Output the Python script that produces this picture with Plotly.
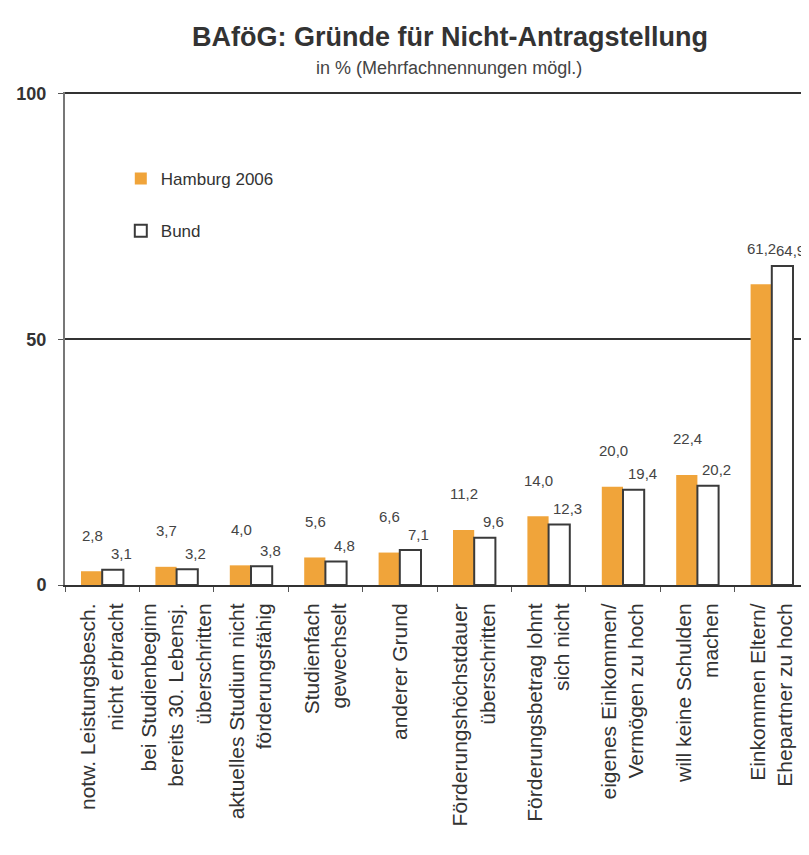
import plotly.graph_objects as go

# Gründe (Kategorien) und Werte in %
categories = [
    "notw. Leistungsbesch.<br>nicht erbracht",
    "bei Studienbeginn<br>bereits 30. Lebensj.<br>überschritten",
    "aktuelles Studium nicht<br>förderungsfähig",
    "Studienfach<br>gewechselt",
    "anderer Grund",
    "Förderungshöchstdauer<br>überschritten",
    "Förderungsbetrag lohnt<br>sich nicht",
    "eigenes Einkommen/<br>Vermögen zu hoch",
    "will keine Schulden<br>machen",
    "Einkommen Eltern/<br>Ehepartner zu hoch",
]
hamburg = [2.8, 3.7, 4.0, 5.6, 6.6, 11.2, 14.0, 20.0, 22.4, 61.2]
bund = [3.1, 3.2, 3.8, 4.8, 7.1, 9.6, 12.3, 19.4, 20.2, 64.9]

orange = "#F0A43A"
dark = "#3a3a3a"
font = "Liberation Sans, Arial, sans-serif"

fig = go.Figure()
fig.add_trace(go.Bar(x=categories, y=hamburg, name="Hamburg 2006",
                     marker=dict(color=orange, line=dict(width=0)),
                     legendgroup="a"))
fig.add_trace(go.Bar(x=categories, y=bund, name="Bund",
                     marker=dict(color="white", line=dict(color=dark, width=2)),
                     legendgroup="b"))


def fmt(v):
    return f"{v:.1f}".replace(".", ",")


for c, h, b in zip(categories, hamburg, bund):
    fig.add_annotation(x=c, y=h, text=fmt(h), showarrow=False, xshift=-10,
                       yshift=36, font=dict(size=15, color="#444", family=font))
    fig.add_annotation(x=c, y=b, text=fmt(b), showarrow=False, xshift=19,
                       yshift=16, font=dict(size=15, color="#444", family=font))

# Titel und Untertitel
fig.add_annotation(text="<b>BAföG: Gründe für Nicht-Antragstellung</b>",
                   xref="paper", yref="paper", x=0.517, y=1.112,
                   xanchor="center", yanchor="middle", showarrow=False,
                   font=dict(size=27, color="#333", family=font))
fig.add_annotation(text="in % (Mehrfachnennungen mögl.)",
                   xref="paper", yref="paper", x=0.516, y=1.048,
                   xanchor="center", yanchor="middle", showarrow=False,
                   font=dict(size=18, color="#444", family=font))

fig.update_layout(
    width=809, height=855,
    margin=dict(l=57, r=8, t=84, b=278),
    paper_bgcolor="white", plot_bgcolor="white",
    barmode="group", bargap=0.43, bargroupgap=0,
    font=dict(family=font, color="#333"),
    legend=dict(x=0.075, y=0.86, xanchor="left", yanchor="top",
                traceorder="grouped", tracegroupgap=27,
                bgcolor="rgba(0,0,0,0)",
                font=dict(size=17, color="#333", family=font)),
    showlegend=True,
)
fig.update_yaxes(range=[0, 100.3], tickvals=[0, 50, 100], showgrid=True,
                 gridcolor="#333", gridwidth=2, zeroline=False,
                 showline=True, linecolor="#777", linewidth=2,
                 ticks="outside", ticklen=5, tickcolor="#555",
                 ticklabelstandoff=8,
                 tickfont=dict(size=18, color="#333", family=font, weight="bold"))
fig.update_xaxes(tickangle=-90, showline=True, linecolor="#333", linewidth=2,
                 ticks="outside", tickson="boundaries", ticklen=5,
                 tickcolor="#555", ticklabelstandoff=8,
                 tickfont=dict(size=21, color="#333", family=font))

fig.write_html("out.html")
